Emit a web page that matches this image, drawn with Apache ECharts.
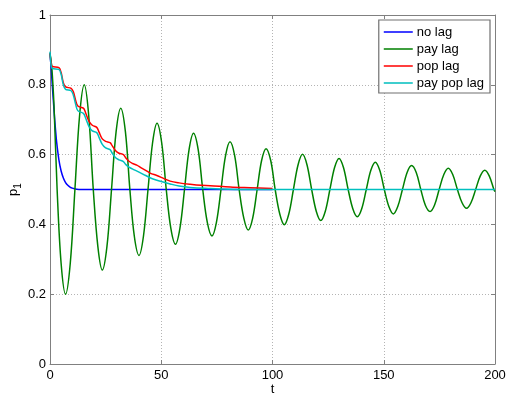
<!DOCTYPE html>
<html>
<head>
<meta charset="utf-8">
<script src="https://cdn.jsdelivr.net/npm/echarts@6/dist/echarts.min.js"></script>
<style>
  html, body { margin: 0; padding: 0; background: #fff; }
  #chart { width: 507px; height: 396px; }
</style>
</head>
<body>
<div id="chart"></div>
<script>
// Share p1 over time t for four delay variants.
const seriesNames = ['no lag', 'pay lag', 'pop lag', 'pay pop lag'];
const seriesColors = ['#0000ff', '#008000', '#ff0000', '#00bfbf'];

const xTicks = [0, 50, 100, 150, 200];
const yTicks = [0, 0.2, 0.4, 0.6, 0.8, 1];

// no lag: fast relaxation to 0.5
const noLag = [
  [0, 0.89], [0.5, 0.85], [1, 0.80], [1.5, 0.755], [2, 0.71], [2.5, 0.67], [3, 0.635],
  [4, 0.585], [5, 0.553], [6, 0.533], [7, 0.52], [8, 0.512], [9, 0.507],
  [10, 0.504], [12, 0.501], [14, 0.5], [100, 0.5]
];

// pay lag: slowly damped oscillation around 0.5
const payLag = [
  [0, 0.89], [0.8, 0.85], [1.8, 0.74], [3.2, 0.5], [5.0, 0.288],
  [7.0, 0.200], [9.1, 0.288], [11.2, 0.5],
  [13.3, 0.712], [15.4, 0.800], [17.4, 0.712], [19.45, 0.5],
  [21.5, 0.337], [23.5, 0.269], [25.6, 0.337], [27.65, 0.5],
  [29.7, 0.665], [31.8, 0.733], [33.9, 0.665], [35.9, 0.5],
  [37.9, 0.366], [40.0, 0.311], [42.0, 0.366], [44.05, 0.5],
  [46.1, 0.634], [48.1, 0.690], [50.2, 0.634], [52.25, 0.5],
  [54.3, 0.389], [56.4, 0.343], [58.4, 0.389], [60.45, 0.5],
  [62.5, 0.614], [64.5, 0.661], [66.6, 0.614], [68.65, 0.5],
  [70.7, 0.406], [72.8, 0.367], [74.8, 0.406], [76.85, 0.5],
  [78.9, 0.597], [80.9, 0.637], [83.0, 0.597], [85.0, 0.5],
  [87.1, 0.418], [89.1, 0.384], [91.1, 0.418], [93.1, 0.5],
  [95.1, 0.583], [97.1, 0.617], [99.2, 0.583], [101.2, 0.5],
  [103.3, 0.429], [105.3, 0.399], [107.3, 0.429], [109.4, 0.5],
  [111.5, 0.571], [113.5, 0.601], [115.5, 0.571], [117.6, 0.5],
  [119.7, 0.437], [121.7, 0.411], [123.7, 0.437], [125.8, 0.5],
  [127.9, 0.563], [129.9, 0.589], [131.9, 0.563], [134.0, 0.5],
  [136.1, 0.445], [138.1, 0.422], [140.1, 0.445], [142.15, 0.5],
  [144.2, 0.555], [146.2, 0.578], [148.2, 0.555], [150.25, 0.5],
  [152.3, 0.451], [154.3, 0.430], [156.3, 0.451], [158.4, 0.5],
  [160.5, 0.549], [162.5, 0.569], [164.6, 0.549], [166.65, 0.5],
  [168.7, 0.455], [170.8, 0.437], [172.8, 0.455], [174.9, 0.5],
  [177.0, 0.543], [179.0, 0.561], [181.0, 0.543], [183.1, 0.5],
  [185.2, 0.462], [187.2, 0.446], [189.2, 0.462], [191.3, 0.5],
  [193.4, 0.539], [195.4, 0.555], [197.4, 0.539], [199.5, 0.5], [200, 0.494]
];

// pop lag: stepwise decay towards 0.5
const popLag = [
  [0, 0.89], [0.5, 0.862], [1, 0.853], [4, 0.849], [5, 0.835], [6, 0.806],
  [7, 0.794], [9.5, 0.79], [10.5, 0.78], [11.5, 0.756], [12.5, 0.739],
  [15, 0.733], [16, 0.72], [17.5, 0.696], [19, 0.684], [21, 0.678],
  [22, 0.665], [23.5, 0.645], [25, 0.638], [27, 0.634], [28, 0.625],
  [29.5, 0.611], [31, 0.604], [33, 0.6], [34, 0.591], [35.5, 0.581],
  [37, 0.575], [39, 0.57], [41, 0.562], [43, 0.555], [45, 0.547],
  [48, 0.54], [51, 0.532], [54, 0.524], [58, 0.519], [63, 0.515],
  [68, 0.512], [72, 0.511], [81, 0.507], [90, 0.505], [100, 0.503]
];

// pay pop lag: stepwise decay, slightly faster
const payPopLag = [
  [0, 0.895], [0.5, 0.856], [1, 0.847], [4, 0.844], [5, 0.83], [6, 0.8],
  [7, 0.787], [9.5, 0.783], [10.5, 0.77], [11.5, 0.745], [12.5, 0.726],
  [15, 0.718], [16, 0.705], [17.5, 0.681], [19, 0.668], [21, 0.663],
  [22, 0.65], [23.5, 0.629], [25, 0.619], [27, 0.614], [28, 0.604],
  [29.5, 0.591], [31, 0.585], [33, 0.58], [34, 0.572], [35.5, 0.564],
  [37, 0.559], [40, 0.55], [43, 0.54], [46, 0.531], [50, 0.523],
  [54, 0.516], [58, 0.51], [63, 0.506], [72, 0.503], [80, 0.501],
  [90, 0.5], [200, 0.5]
];

const seriesData = [noLag, payLag, popLag, payPopLag];

const chart = echarts.init(document.getElementById('chart'), null, { renderer: 'canvas' });

const FONT = 'Liberation Sans, Arial, sans-serif';
const AXIS_GREY = '#808080';
// Legend key: a short horizontal stroke centred in a 29x14 box
const LEGEND_LINE = 'path://M0,0h0.01v0.01h-0.01z M0,6.3h29v1.4h-29z M28.99,13.99h0.01v0.01h-0.01z';

const valueAxisBase = {
  type: 'value',
  axisLine: { show: true, onZero: false, lineStyle: { color: AXIS_GREY, width: 1 } },
  axisTick: { show: true, inside: true, length: 4, lineStyle: { color: AXIS_GREY } },
  axisLabel: { color: '#000', fontSize: 13, fontFamily: FONT },
  splitLine: { show: false }
};

chart.setOption({
  animation: false,
  backgroundColor: '#fff',
  grid: { left: 50, right: 12, top: 15, bottom: 32, containLabel: false, outerBoundsMode: 'none' },
  legend: {
    data: seriesNames.map(n => ({ name: n, icon: LEGEND_LINE })),
    orient: 'vertical',
    right: 17,
    top: 20,
    itemWidth: 29,
    itemHeight: 14,
    itemGap: 3,
    padding: [5, 6, 3, 5],
    backgroundColor: '#fff',
    borderColor: '#707070',
    borderWidth: 1.2,
    textStyle: { color: '#000', fontSize: 13, fontFamily: FONT, padding: [0, 0, 0, -1] }
  },
  xAxis: [
    Object.assign({}, valueAxisBase, {
      position: 'bottom',
      min: xTicks[0], max: xTicks[xTicks.length - 1], interval: 50,
      name: 't', nameLocation: 'middle', nameGap: 19, nameMoveOverlap: false,
      nameTextStyle: { color: '#000', fontSize: 13, fontFamily: FONT },
      axisLabel: Object.assign({}, valueAxisBase.axisLabel, { margin: 5 }),
      splitLine: { show: true, lineStyle: { color: '#b4b4b4', type: [1, 2], width: 1 } }
    }),
    Object.assign({}, valueAxisBase, {
      position: 'top',
      min: xTicks[0], max: xTicks[xTicks.length - 1], interval: 50,
      axisLabel: { show: false }
    })
  ],
  yAxis: [
    Object.assign({}, valueAxisBase, {
      position: 'left',
      min: yTicks[0], max: yTicks[yTicks.length - 1], interval: 0.2,
      name: '{p|p}{s|1}', nameLocation: 'middle', nameGap: 27, nameRotate: 90, nameMoveOverlap: false,
      nameTextStyle: {
        color: '#000', fontFamily: FONT,
        rich: {
          p: { fontSize: 13, lineHeight: 20, fontFamily: FONT, color: '#000' },
          s: { fontSize: 10, lineHeight: 10, verticalAlign: 'bottom', fontFamily: FONT, color: '#000' }
        }
      },
      axisLabel: Object.assign({}, valueAxisBase.axisLabel, { margin: 4 }),
      splitLine: { show: true, lineStyle: { color: '#b4b4b4', type: [1, 2], width: 1 } }
    }),
    Object.assign({}, valueAxisBase, {
      position: 'right',
      min: yTicks[0], max: yTicks[yTicks.length - 1], interval: 0.2,
      axisLabel: { show: false }
    })
  ],
  series: seriesNames.map((name, i) => ({
    name: name,
    type: 'line',
    xAxisIndex: 0,
    yAxisIndex: 0,
    data: seriesData[i],
    symbol: 'none',
    showSymbol: false,
    smooth: 0.35,
    lineStyle: { color: seriesColors[i], width: 1.5 },
    itemStyle: { color: seriesColors[i] }
  }))
});
</script>
</body>
</html>
